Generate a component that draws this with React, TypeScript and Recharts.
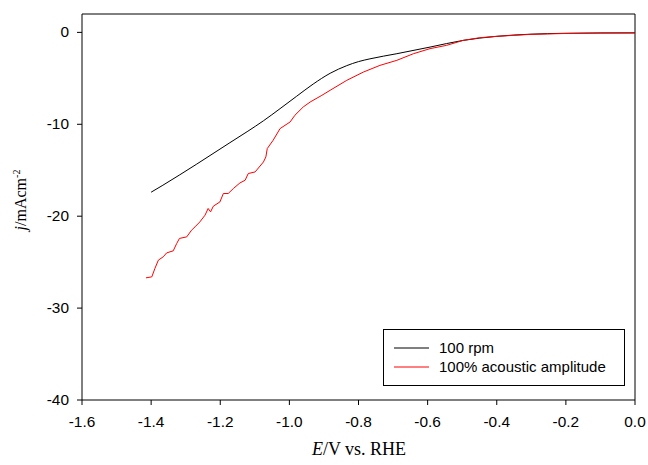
import React from "react";
import { LineChart, Line, XAxis, YAxis, ReferenceLine, Legend, Label } from "recharts";

// 100 rpm (black)
const rpmE = [-1.400, -1.366, -1.268, -1.172, -1.120, -1.075, -1.027, -0.979, -0.931, -0.882, -0.834, -0.800, -0.767, -0.689, -0.593, -0.497, -0.449, -0.400, -0.304, -0.203, -0.101, 0.0];
const rpmJ = [-17.39, -16.63, -14.33, -12.00, -10.75, -9.62, -8.30, -6.95, -5.62, -4.45, -3.62, -3.18, -2.88, -2.32, -1.60, -0.87, -0.62, -0.43, -0.20, -0.10, -0.06, -0.05];

// 100% acoustic amplitude (red)
const acE = [-1.415, -1.398, -1.389, -1.379, -1.365, -1.355, -1.336, -1.326, -1.318, -1.297, -1.283, -1.273, -1.259, -1.244, -1.235, -1.228, -1.220, -1.201, -1.191, -1.177, -1.162, -1.143, -1.128, -1.119, -1.099, -1.075, -1.068, -1.064, -1.047, -1.027, -0.998, -0.984, -0.960, -0.940, -0.906, -0.882, -0.834, -0.786, -0.738, -0.689, -0.641, -0.593, -0.545, -0.497, -0.449, -0.400, -0.304, -0.203, -0.101, 0.0];
const acJ = [-26.71, -26.60, -25.68, -24.78, -24.42, -23.99, -23.77, -22.97, -22.42, -22.25, -21.52, -21.16, -20.62, -19.89, -19.16, -19.53, -18.91, -18.45, -17.53, -17.53, -16.99, -16.38, -16.09, -15.36, -15.18, -14.10, -13.55, -12.64, -11.74, -10.47, -9.75, -9.02, -8.12, -7.58, -6.85, -6.30, -5.22, -4.32, -3.59, -3.04, -2.32, -1.77, -1.41, -0.87, -0.58, -0.43, -0.22, -0.12, -0.08, -0.07];

const xTicks = [-1.6, -1.4, -1.2, -1.0, -0.8, -0.6, -0.4, -0.2, 0.0];
const yTicks = [0, -10, -20, -30, -40];
const seriesNames = ["100 rpm", "100% acoustic amplitude"];
const seriesColors = ["#000000", "#ff0000"];

const rpmData = rpmE.map((e, i) => ({ E: e, j: rpmJ[i] }));
const acData = acE.map((e, i) => ({ E: e, j: acJ[i] }));

const SANS = "'Liberation Sans', Arial, sans-serif";
const SERIF = "'Liberation Serif', 'Times New Roman', serif";

const XTick = (props: any) => {
  const { x, y, payload } = props;
  return (
    <g transform={`translate(${x},${y})`}>
      <text transform="scale(1.1,1)" textAnchor="middle" dy="0.71em" fontSize={14} fontFamily={SANS} fill="#000">
        {Number(payload.value).toFixed(1)}
      </text>
    </g>
  );
};

const YTick = (props: any) => {
  const { x, y, payload } = props;
  return (
    <g transform={`translate(${x},${y})`}>
      <text transform="scale(1.1,1)" textAnchor="end" dy="0.355em" fontSize={14} fontFamily={SANS} fill="#000">
        {String(payload.value)}
      </text>
    </g>
  );
};

const LegendBox = () => (
  <div style={{ width: 242, height: 57, border: "1px solid #000", boxSizing: "border-box", background: "#fff" }}>
    <svg width={240} height={55} style={{ display: "block" }}>
      {seriesNames.map((n, i) => (
        <g key={n}>
          <line x1={10} x2={45} y1={18 + i * 19} y2={18 + i * 19} stroke={seriesColors[i]} strokeWidth={1} />
          <text x={55} y={23 + i * 19} fontSize={15} fontFamily={SANS} fill="#000">{n}</text>
        </g>
      ))}
    </svg>
  </div>
);

export default function App() {
  return (
    <div style={{ position: "absolute", left: 0, top: 0, background: "#fff" }}>
      <LineChart width={648} height={465} margin={{ top: 14, right: 13, left: 0, bottom: 0 }}>
        <XAxis
          dataKey="E"
          type="number"
          domain={[-1.6, 0]}
          ticks={xTicks}
          allowDataOverflow
          height={65}
          stroke="#000"
          tickSize={5}
          tickMargin={12}
          tick={<XTick />}
        >
          <Label
            content={() => (
              <text x={359} y={455} textAnchor="middle" fontSize={18} fontFamily={SERIF} fill="#000">
                <tspan fontStyle="italic">E</tspan>/V vs. RHE
              </text>
            )}
          />
        </XAxis>
        <YAxis
          type="number"
          domain={[-40, 2]}
          ticks={yTicks}
          allowDataOverflow
          width={82}
          stroke="#000"
          tickSize={5}
          tickMargin={8}
          tick={<YTick />}
        >
          <Label
            content={() => (
              <text transform="translate(26,200) rotate(-90)" textAnchor="middle" fontSize={16} fontFamily={SERIF} fill="#000">
                <tspan fontStyle="italic">j</tspan>/mAcm<tspan dy={-6} fontSize={10}>-2</tspan>
              </text>
            )}
          />
        </YAxis>
        <ReferenceLine y={2} stroke="#000" strokeWidth={1} />
        <ReferenceLine x={0} stroke="#000" strokeWidth={1} />
        <Line data={rpmData} dataKey="j" name={seriesNames[0]} stroke={seriesColors[0]} strokeWidth={1} dot={false} type="monotone" isAnimationActive={false} />
        <Line data={acData} dataKey="j" name={seriesNames[1]} stroke={seriesColors[1]} strokeWidth={1} dot={false} type="linear" isAnimationActive={false} />
        <Legend
          layout="horizontal"
          verticalAlign="middle"
          align="center"
          content={<LegendBox />}
          wrapperStyle={{ left: 383, top: 329, width: 242, height: 57 }}
        />
      </LineChart>
    </div>
  );
}
